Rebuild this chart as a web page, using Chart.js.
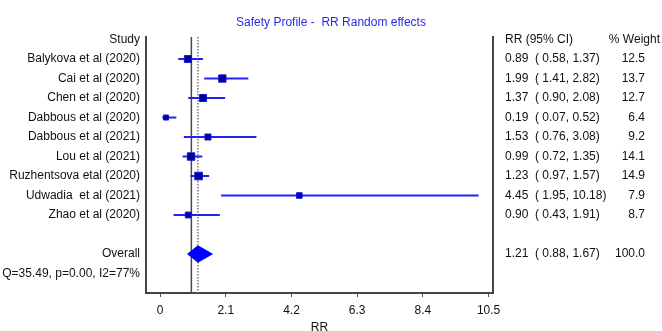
<!DOCTYPE html>
<html>
<head>
<meta charset="UTF-8">
<title>Safety Profile - RR Random effects</title>
<script src="https://cdn.jsdelivr.net/npm/chart.js"></script>
<style>
    body { margin: 0; background: #fff; }
    canvas { display: block; }
</style>
</head>
<body>
<canvas id="forest" width="662" height="331"></canvas>
<script>
    // data
    const studies = ['Balykova et al (2020)', 'Cai et al (2020)', 'Chen et al (2020)', 'Dabbous et al (2020)',
        'Dabbous et al (2021)', 'Lou et al (2021)', 'Ruzhentsova etal (2020)', 'Udwadia  et al (2021)', 'Zhao et al (2020)'];
    const rr = [0.89, 1.99, 1.37, 0.19, 1.53, 0.99, 1.23, 4.45, 0.90];
    const ciLow = [0.58, 1.41, 0.90, 0.07, 0.76, 0.72, 0.97, 1.95, 0.43];
    const ciHigh = [1.37, 2.82, 2.08, 0.52, 3.08, 1.35, 1.57, 10.18, 1.91];
    const weights = [12.5, 13.7, 12.7, 6.4, 9.2, 14.1, 14.9, 7.9, 8.7];
    const overall = [1.21, 0.88, 1.67, 100.0]; // RR, low, high, weight
    const hetText = 'Q=35.49, p=0.00, I2=77%';
    const xTicks = [0, 2.1, 4.2, 6.3, 8.4, 10.5];

    const font = 'Arial, "Liberation Sans", sans-serif';
    Chart.defaults.font.family = font;
    Chart.defaults.font.size = 12;
    Chart.defaults.color = '#111';

    // row numbers on the y scale: 0 header, 1..9 studies, 11 overall, 12 heterogeneity
    const overallRow = studies.length + 2;
    const yMin = -0.13, yMax = 13.0;
    const rowLabels = {0: 'Study', [overallRow]: 'Overall', [overallRow + 1]: hetText};
    studies.forEach((s, i) => rowLabels[i + 1] = s);

    const datasets = [];
    // study markers
    datasets.push({
        data: rr.map((v, i) => ({x: v, y: i + 1})),
        pointStyle: 'rect',
        pointRadius: weights.map(w => Math.sqrt(w) * 1.4),
        backgroundColor: '#00009a',
        borderColor: '#1414d8',
        borderWidth: 1
    });
    // overall diamond
    const dh = 0.42;
    datasets.push({
        data: [
            {x: overall[1], y: overallRow}, {x: overall[0], y: overallRow - dh},
            {x: overall[2], y: overallRow}, {x: overall[0], y: overallRow + dh},
            {x: overall[1], y: overallRow}
        ],
        showLine: true,
        fill: 'shape',
        backgroundColor: '#0000ff',
        borderColor: '#0000ff',
        borderWidth: 1,
        pointRadius: 0
    });
    // confidence intervals
    studies.forEach((s, i) => {
        datasets.push({
            data: [{x: ciLow[i], y: i + 1}, {x: ciHigh[i], y: i + 1}],
            showLine: true,
            borderColor: '#2222ee',
            borderWidth: 2,
            pointRadius: 0
        });
    });
    // no-effect line and overall estimate line
    datasets.push({
        data: [{x: 1, y: yMin}, {x: 1, y: yMax}],
        showLine: true, borderColor: '#4a4a4a', borderWidth: 1.5, pointRadius: 0
    });
    datasets.push({
        data: [{x: overall[0], y: yMin}, {x: overall[0], y: yMax}],
        showLine: true, borderColor: '#777', borderWidth: 1.5, borderDash: [1.5, 1.5], pointRadius: 0
    });

    // right hand text columns
    const sideText = {
        id: 'sideText',
        afterDraw(chart) {
            const {ctx, chartArea} = chart;
            const y = chart.scales.y;
            const xText = chartArea.right + 12;
            const xWeight = chartArea.right + 152;
            ctx.save();
            ctx.font = '12px ' + font;
            ctx.fillStyle = '#111';
            ctx.textBaseline = 'middle';
            ctx.textAlign = 'left';
            ctx.fillText('RR (95% CI)', xText, y.getPixelForValue(0));
            ctx.textAlign = 'right';
            ctx.fillText('% Weight', chartArea.right + 167, y.getPixelForValue(0));
            const row = (est, lo, hi, w, r) => {
                const py = y.getPixelForValue(r);
                ctx.textAlign = 'left';
                ctx.fillText(est.toFixed(2) + '  ( ' + lo.toFixed(2) + ', ' + hi.toFixed(2) + ')', xText, py);
                ctx.textAlign = 'right';
                ctx.fillText(w.toFixed(1), xWeight, py);
            };
            rr.forEach((v, i) => row(v, ciLow[i], ciHigh[i], weights[i], i + 1));
            row(overall[0], overall[1], overall[2], overall[3], overallRow);
            ctx.restore();
        }
    };

    new Chart(document.getElementById('forest'), {
        type: 'scatter',
        data: {datasets: datasets},
        plugins: [sideText],
        options: {
            responsive: false,
            animation: false,
            devicePixelRatio: 1,
            layout: {padding: 0, autoPadding: false},
            plugins: {
                legend: {display: false},
                tooltip: {enabled: false},
                title: {
                    display: true,
                    text: 'Safety Profile -  RR Random effects',
                    color: '#2b2be6',
                    font: {size: 12, weight: 'normal'},
                    padding: {top: 15, bottom: 7.6}
                }
            },
            scales: {
                x: {
                    type: 'linear',
                    min: -0.45,
                    max: 10.64,
                    afterBuildTicks: s => { s.ticks = xTicks.map(v => ({value: v})); },
                    afterFit: s => { s.height = 38; },
                    ticks: {callback: v => String(v), padding: 6, color: '#111'},
                    grid: {drawOnChartArea: false, drawTicks: true, tickLength: 4, color: '#555'},
                    border: {display: true, color: '#444', width: 2},
                    title: {display: true, text: 'RR', color: '#111', font: {size: 12}, padding: {top: 0, bottom: -4}}
                },
                y: {
                    type: 'linear',
                    reverse: true,
                    min: yMin,
                    max: yMax,
                    afterBuildTicks: s => { s.ticks = Object.keys(rowLabels).map(k => ({value: Number(k)})); },
                    afterFit: s => { s.width = 146; },
                    ticks: {callback: v => rowLabels[v], padding: 6, color: '#111', autoSkip: false},
                    grid: {display: false, drawTicks: false},
                    border: {display: true, color: '#444', width: 2}
                },
                yRight: {
                    type: 'linear',
                    position: 'right',
                    min: yMin,
                    max: yMax,
                    afterFit: s => { s.width = 169; },
                    ticks: {display: false},
                    grid: {display: false, drawTicks: false},
                    border: {display: true, color: '#444', width: 2}
                }
            }
        }
    });
</script>
</body>
</html>
